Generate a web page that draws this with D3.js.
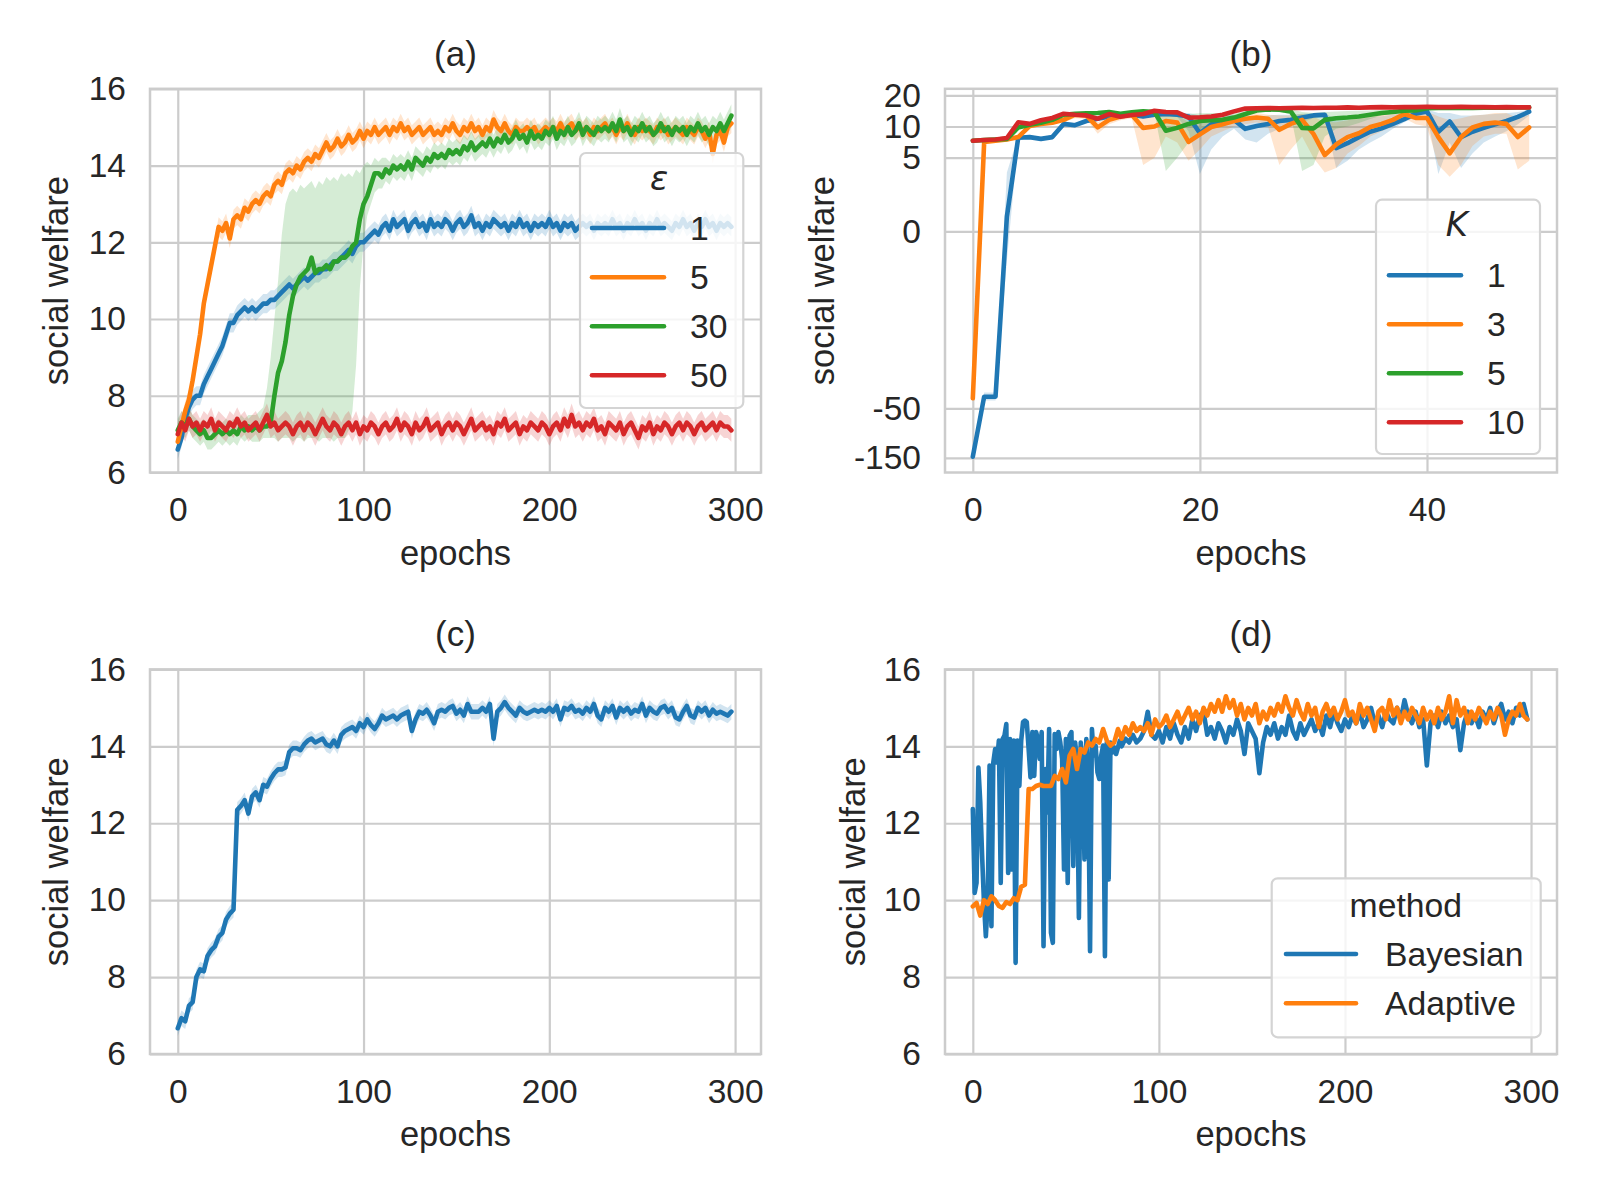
<!DOCTYPE html>
<html><head><meta charset="utf-8">
<script src="https://cdn.jsdelivr.net/npm/d3@7"></script>
<style>
body{margin:0;background:#fff}
</style>
</head><body>
<svg id="chart" width="1600" height="1200" xmlns="http://www.w3.org/2000/svg"></svg>
<script>
// ---------------- DATA ----------------
// Panel (a): social welfare per epoch (epochs 0..298, every 2nd epoch)
const epsLabels = ["1", "5", "30", "50"];
const eps1 = [
6.6,6.9,7.4,7.7,7.9,8.0,8.0,8.3,8.5,8.7,
8.9,9.1,9.3,9.6,9.9,9.9,10.1,10.2,10.3,10.2,
10.3,10.2,10.3,10.4,10.4,10.5,10.5,10.6,10.7,10.8,
10.9,10.8,10.9,11.0,11.1,11.0,11.1,11.2,11.2,11.3,
11.3,11.4,11.5,11.5,11.6,11.7,11.8,11.7,11.9,12.0,
12.0,12.1,12.2,12.3,12.2,12.4,12.5,12.3,12.6,12.4,
12.5,12.6,12.3,12.5,12.6,12.4,12.5,12.3,12.6,12.4,
12.5,12.4,12.6,12.5,12.3,12.5,12.6,12.4,12.5,12.7,
12.4,12.5,12.3,12.5,12.4,12.6,12.5,12.4,12.5,12.3,
12.5,12.4,12.6,12.4,12.5,12.3,12.5,12.4,12.5,12.4,
12.6,12.4,12.5,12.3,12.5,12.4,12.5,12.3,12.4,12.5,
12.4,12.5,12.3,12.5,12.4,12.5,12.4,12.6,12.4,12.5,
12.3,12.5,12.4,12.6,12.4,12.5,12.3,12.5,12.4,12.6,
12.4,12.5,12.4,12.3,12.5,12.4,12.6,12.4,12.5,12.3,
12.5,12.4,12.6,12.4,12.5,12.3,12.5,12.4,12.5,12.4];
const eps5 = [
6.8,7.2,7.6,7.9,8.4,9.0,9.6,10.4,10.9,11.4,
11.9,12.4,12.3,12.5,12.1,12.6,12.7,12.6,12.9,12.8,
13.0,13.1,13.0,13.2,13.3,13.2,13.5,13.6,13.5,13.8,
13.9,13.8,14.0,13.9,14.1,14.2,14.1,14.3,14.2,14.4,
14.6,14.4,14.5,14.7,14.5,14.6,14.8,14.6,14.7,14.9,
14.7,14.9,14.8,15.0,14.8,14.9,15.0,14.8,15.0,14.9,
15.1,14.9,15.0,14.8,14.9,15.0,14.8,14.9,15.0,14.8,
14.9,14.8,15.0,14.9,15.1,14.9,14.8,15.0,14.9,15.1,
14.9,15.0,14.8,15.0,14.9,15.2,15.0,14.9,15.1,14.9,
14.8,15.0,14.9,14.9,15.0,14.9,15.0,14.8,14.9,15.0,
14.9,15.0,14.9,15.1,14.9,15.0,15.1,14.9,15.0,14.9,
15.0,14.8,15.0,14.9,15.0,15.1,14.9,15.0,14.8,15.0,
14.9,15.1,14.9,14.8,15.0,14.9,15.0,14.9,14.8,15.0,
14.9,15.0,14.8,14.9,15.0,14.9,14.8,15.0,14.9,14.8,
15.0,14.9,14.7,14.9,14.3,14.8,14.9,14.6,15.0,15.1];
const eps30 = [
7.1,7.3,7.2,7.4,7.2,7.1,7.0,7.1,6.9,6.9,
7.0,7.1,7.0,7.1,7.0,7.1,7.0,7.2,7.1,7.2,
7.1,7.2,7.1,7.2,7.2,7.3,8.0,8.6,8.9,9.4,
10.1,10.6,10.9,11.1,11.2,11.3,11.6,11.2,11.3,11.3,
11.4,11.3,11.5,11.5,11.6,11.6,11.7,11.9,12.0,12.6,
13.0,13.2,13.5,13.8,13.8,13.7,13.9,13.8,14.0,13.9,
14.0,13.9,14.1,13.9,14.2,14.1,14.0,14.2,14.1,14.3,
14.2,14.3,14.2,14.4,14.3,14.4,14.3,14.5,14.4,14.6,
14.4,14.5,14.6,14.5,14.7,14.5,14.7,14.6,14.8,14.6,
14.7,14.9,14.7,14.8,14.6,14.9,14.7,14.8,14.7,14.9,
14.8,15.0,14.7,14.9,14.8,15.0,14.8,14.9,15.1,14.8,
15.0,14.9,14.8,15.0,14.9,15.0,14.9,15.1,14.9,15.2,
14.9,15.0,14.8,15.0,14.9,15.1,14.9,15.0,14.8,14.9,
15.1,14.9,15.0,14.8,15.0,14.9,15.0,14.8,15.0,14.9,
15.1,14.9,15.0,14.8,15.0,14.9,15.1,14.9,15.1,15.3];
const eps50 = [
7.0,7.3,7.1,7.4,7.2,7.3,7.1,7.3,7.2,7.4,
7.1,7.3,7.2,7.1,7.3,7.2,7.4,7.2,7.3,7.1,
7.2,7.3,7.1,7.3,7.5,7.2,7.3,7.1,7.2,7.3,
7.2,7.0,7.2,7.3,7.1,7.3,7.2,7.0,7.2,7.4,
7.2,7.1,7.3,7.2,7.0,7.2,7.3,7.1,7.3,7.0,
7.2,7.1,7.3,7.2,7.0,7.2,7.3,7.1,7.2,7.4,
7.1,7.3,7.2,7.0,7.3,7.1,7.2,7.4,7.1,7.2,
7.3,7.0,7.2,7.3,7.1,7.3,7.2,7.0,7.2,7.4,
7.1,7.2,7.3,7.1,7.2,7.0,7.3,7.2,7.4,7.1,
7.2,7.3,7.0,7.2,7.1,7.3,7.2,7.1,7.3,7.2,
7.0,7.2,7.3,7.1,7.4,7.2,7.5,7.2,7.3,7.1,
7.3,7.2,7.4,7.1,7.2,7.0,7.3,7.2,7.1,7.3,
7.0,7.2,7.3,7.1,6.9,7.2,7.1,7.3,7.0,7.2,
7.1,7.3,7.2,7.0,7.2,7.3,7.1,7.3,7.2,7.0,
7.2,7.3,7.1,7.2,7.3,7.1,7.3,7.2,7.2,7.1];
// confidence half-widths read for (a)
const ciHalfA = [0.25, 0.25, 0.3, 0.3];
// eps=30 wide band, epochs 40..120 every 2nd epoch
const eps30BandLo = [
6.8,6.8,6.8,6.9,6.9,6.9,6.9,6.8,6.9,6.9,
6.9,6.8,6.9,6.9,6.8,6.9,6.9,6.9,6.8,6.9,
6.9,6.9,6.8,6.9,6.9,6.9,7.1,7.6,8.8,10.8,
12.0,12.7,13.0,13.3,13.4,13.4,13.6,13.5,13.7,13.6,
13.7];
const eps30BandHi = [
7.5,7.5,7.6,7.7,8.2,9.0,10.0,11.0,12.2,13.0,
13.3,13.4,13.3,13.5,13.4,13.5,13.6,13.4,13.6,13.5,
13.7,13.6,13.7,13.6,13.8,13.7,13.8,13.7,13.9,13.8,
14.0,14.1,14.0,14.2,14.1,14.2,14.2,14.1,14.3,14.2,
14.3];

// Panel (b): epochs 0..49
const kLabels = ["1", "3", "5", "10"];
const k1 = [-146,-38.5,-38.5,1.0,7.8,7.9,7.6,7.9,10.6,10.3,
11.3,11.9,12.5,12.8,13.0,12.5,13.0,13.2,13.0,12.5,
8.6,10.5,11.0,11.6,9.5,10.1,10.6,11.3,11.6,12.2,
12.8,13.0,6.2,6.9,7.9,8.9,9.6,10.6,11.8,13.3,
14.0,8.9,11.2,7.9,8.9,9.7,10.5,11.3,12.4,13.9];
const k1Lo = [-150,-42,-42,-2,7.5,7.6,7.3,7.6,10.0,9.8,
10.8,11.4,12.0,12.3,12.5,12.0,12.5,12.6,12.4,9.0,
3.9,6.0,8.0,9.5,7.5,7.0,8.5,9.5,10.0,11.0,
12.0,12.2,4.3,4.8,6.0,7.0,8.0,9.5,11.0,12.5,
13.0,3.9,7.0,4.3,5.5,7.0,8.0,9.0,10.5,12.8];
const k1Hi = [-142,-35,-35,4,8.1,8.2,7.9,8.2,11.2,10.8,
11.8,12.4,13.0,13.3,13.5,13.0,13.5,13.7,13.6,13.5,
12.8,12.5,12.8,13.0,12.5,12.5,12.8,13.0,13.0,13.3,
13.5,13.6,11.5,11.5,11.8,12.2,12.6,13.0,13.6,14.0,
14.6,13.5,13.5,12.8,12.8,13.0,13.2,13.4,13.8,14.5];
const k3 = [-39.9,7.1,7.3,7.5,7.9,10.1,10.6,10.9,11.6,13.0,
12.8,9.8,11.6,12.5,13.0,9.7,10.0,11.3,10.9,7.1,
8.4,9.9,10.5,11.3,11.9,12.2,11.9,9.3,10.6,11.6,
8.5,5.3,6.7,7.9,8.6,9.9,10.6,11.6,13.2,12.1,
12.1,7.9,5.5,7.9,9.8,10.6,10.9,10.6,7.9,9.8];
const k3Lo = [-41,6.8,7.0,7.2,7.5,9.5,10.2,10.5,11.0,12.0,
11.8,8.5,10.5,11.5,12.0,4.5,5.0,8.0,7.0,4.8,
6.0,8.0,9.0,10.0,10.5,11.0,10.0,4.5,6.0,8.0,
5.0,4.0,4.3,5.5,6.5,8.0,9.0,10.0,12.0,10.5,
10.0,4.5,3.7,4.5,6.5,8.0,8.5,8.5,4.2,4.8];
const k3Hi = [-39,7.4,7.6,7.8,8.3,10.7,11.0,11.3,12.2,13.8,
13.6,11.0,12.6,13.4,13.8,12.8,13.0,13.5,13.0,11.0,
11.5,12.0,12.2,12.8,13.2,13.5,13.0,12.8,12.8,13.2,
12.5,11.0,11.0,11.5,12.0,12.5,13.0,13.2,14.2,13.8,
14.0,12.5,11.5,12.0,12.8,13.0,13.5,13.5,12.0,13.0];
const k5 = [7.3,7.4,7.5,7.6,9.8,10.4,10.9,11.6,13.0,13.3,
13.4,13.5,13.8,13.3,13.7,14.0,13.8,9.1,9.7,10.6,
11.3,11.5,11.6,12.2,13.2,14.3,14.6,14.5,14.0,9.7,
9.6,11.6,12.0,12.2,12.5,13.0,13.5,13.8,14.2,14.3,
15.0,15.1,15.1,15.2,15.1,15.2,15.3,15.2,15.3,15.3];
const k5Lo = [7.1,7.2,7.3,7.4,9.4,10.0,10.5,11.2,12.6,12.9,
13.0,13.1,13.4,12.8,13.3,13.6,13.4,4.1,5.0,7.0,
9.0,9.5,10.0,11.0,12.5,13.8,14.1,14.0,13.0,4.1,
4.5,8.0,9.5,10.0,10.8,11.8,12.8,13.3,13.8,14.0,
14.7,14.8,14.8,14.9,14.8,14.9,15.0,14.9,15.0,15.0];
const k5Hi = [7.5,7.6,7.7,7.8,10.2,10.8,11.3,12.0,13.4,13.7,
13.8,13.9,14.2,13.8,14.1,14.4,14.2,13.5,13.2,13.2,
13.4,13.5,13.5,13.8,14.0,14.8,15.1,15.0,14.8,13.8,
13.5,13.8,14.0,14.1,14.2,14.3,14.5,14.6,14.7,14.8,
15.3,15.4,15.4,15.5,15.4,15.5,15.6,15.5,15.6,15.6];
const k10 = [7.3,7.4,7.5,7.75,11.0,10.6,11.5,12.1,13.3,13.0,
12.8,11.9,13.2,12.4,12.9,13.2,14.2,13.8,13.7,12.2,
12.3,12.5,13.0,14.0,14.9,15.0,15.1,15.0,15.1,15.2,
15.1,15.2,15.2,15.3,15.2,15.3,15.4,15.3,15.4,15.4,
15.5,15.4,15.4,15.5,15.4,15.4,15.3,15.4,15.3,15.3];
const bTickValues = [-150, -50, 0, 5, 10, 20];
const bTickLabels = ["-150", "-50", "0", "5", "10", "20"];

// Panel (c): epochs 0..298 every 2nd epoch
const welfareC = [
6.67,6.93,6.85,7.25,7.35,8.0,8.2,8.15,8.55,8.7,
8.8,9.05,9.15,9.5,9.65,9.75,12.35,12.45,12.6,12.25,
12.7,12.8,12.6,13.0,12.95,13.15,13.3,13.4,13.4,13.45,
13.85,13.95,13.95,13.9,14.05,14.15,14.2,14.1,14.15,14.2,
14.05,14.0,14.15,14.0,14.3,14.4,14.45,14.5,14.4,14.6,
14.5,14.7,14.55,14.45,14.6,14.8,14.7,14.75,14.8,14.7,
14.8,14.85,14.9,14.4,14.7,14.9,14.85,14.95,14.8,14.6,
14.9,14.95,14.9,15.0,15.05,14.85,14.95,14.8,15.1,14.9,
14.9,14.9,15.0,14.9,15.1,14.2,14.9,15.0,15.15,15.0,
14.9,14.8,15.0,14.9,14.85,14.9,14.95,14.9,14.95,14.9,
15.0,14.9,15.05,14.7,15.0,14.95,15.05,14.9,14.95,14.85,
15.0,14.9,15.1,14.8,14.7,15.0,14.9,15.05,14.75,15.0,
14.9,15.0,14.85,14.95,14.9,15.1,14.8,15.0,14.9,14.85,
15.0,15.05,14.9,15.0,14.75,14.7,14.9,15.05,14.8,14.75,
15.0,14.9,15.0,14.8,14.95,14.85,14.9,14.85,14.8,14.9];
const ciHalfC = 0.2;

// Panel (d)
const methods = ["Bayesian", "Adaptive"];
// Bayesian: epochs 0..79 (every epoch)
const bayesEarly = [
12.37,10.19,10.45,13.45,12.54,11.15,9.93,9.06,9.93,13.5,
9.32,13.58,13.93,13.58,14.15,10.45,14.19,14.28,14.58,10.71,
14.19,10.8,14.15,8.37,14.15,12.97,14.15,14.63,14.67,14.63,
13.93,13.19,14.37,13.23,14.37,14.19,13.67,14.37,8.8,13.41,
12.28,14.45,9.15,8.89,14.32,13.93,14.37,14.1,13.67,10.8,
14.19,10.45,14.28,14.37,10.89,14.1,13.58,9.54,14.1,13.41,
11.06,14.19,13.32,8.67,14.45,13.76,14.02,13.32,13.15,13.76,
14.02,8.54,14.1,10.54,14.1,13.84,13.97,13.8,13.97,14.15];
// Bayesian: epochs 80..298 (every 2nd epoch)
const bayesLate = [
14.0,14.2,14.1,14.3,14.1,14.2,14.4,14.9,14.3,14.2,
14.4,14.1,14.5,14.2,14.6,14.3,14.1,14.5,14.2,14.7,
14.4,14.8,14.9,14.3,14.5,14.2,14.6,14.4,14.1,14.5,
14.3,14.7,14.4,13.8,14.6,14.4,14.2,13.3,14.1,14.5,
14.3,14.6,14.2,14.5,14.3,14.8,14.4,14.2,14.6,14.3,
14.5,14.7,14.4,14.6,14.3,14.8,14.5,14.9,14.6,14.4,
14.7,14.5,14.8,14.6,14.9,14.5,14.7,15.0,14.6,14.8,
14.5,14.9,14.7,14.6,15.0,14.7,15.2,14.8,14.6,14.9,
14.5,14.7,13.5,14.6,14.8,14.5,14.9,14.6,14.8,14.5,
14.7,13.9,14.6,14.9,14.6,14.8,14.5,14.9,14.7,15.0,
14.6,14.9,15.1,14.7,14.9,14.6,15.0,14.8,15.1,14.7];
// Adaptive: epochs 0..298 (every 2nd epoch)
const adaptive = [
9.84,9.93,9.6,10.0,9.9,10.1,10.0,9.85,9.8,9.95,
9.9,10.05,10.0,10.35,10.4,12.89,12.89,12.97,13.0,12.97,
12.97,12.97,13.23,13.15,13.41,13.06,13.76,13.93,13.41,13.93,
13.84,14.1,14.02,14.19,14.1,14.45,14.15,14.02,14.1,14.45,
14.2,14.5,14.3,14.6,14.4,14.5,14.4,14.6,14.3,14.7,
14.5,14.6,14.8,14.5,14.7,14.9,14.6,14.8,15.0,14.7,
14.9,14.6,15.0,14.8,15.1,14.9,15.2,14.9,15.3,15.0,
15.2,14.8,15.1,14.7,15.0,14.8,15.1,14.6,14.9,14.7,
15.0,14.8,15.1,14.9,15.3,15.0,14.8,15.2,14.9,14.7,
15.1,14.8,15.0,14.5,14.9,15.1,14.8,15.0,14.7,14.9,
15.2,14.8,14.9,14.6,15.1,14.8,15.0,14.7,14.4,14.9,
15.0,14.7,15.2,14.8,15.0,14.6,14.9,14.7,15.0,14.8,
14.6,15.0,14.7,14.9,14.6,15.0,14.7,14.9,15.3,14.6,
15.2,14.8,15.0,14.6,14.9,14.7,15.0,14.8,14.6,14.9,
14.7,15.0,14.8,14.3,14.7,14.9,14.8,15.1,14.8,14.7];

const xTicks300 = [0, 100, 200, 300];
const xTicks50 = [0, 20, 40];
const yTicksWelfare = [6, 8, 10, 12, 14, 16];

// ---------------- STYLE ----------------
const FONT = "'Liberation Sans', Arial, Helvetica, sans-serif";
const TEXT = "#262626";
const GRID = "#cccccc";
const COLORS = ["#1f77b4", "#ff7f0e", "#2ca02c", "#d62728"];
const LINE_W = 4.6;

const svg = d3.select("#chart");
svg.append("rect").attr("width", 1600).attr("height", 1200).attr("fill", "#fff");

// symmetric-log transform (linear below 5, log above)
const SYM_C = 5, SYM_L = 1.637;
function symT(v) {
  const a = Math.abs(v);
  const t = a <= SYM_C ? a / SYM_C * SYM_L : SYM_L + Math.log(a / SYM_C);
  return v < 0 ? -t : t;
}

function toPts(vals, step, start) { return vals.map((v, i) => ({e: start + i * step, v})); }

let clipId = 0;
function panel(p) {
  const w = p.right - p.left, h = p.bottom - p.top;
  const g = svg.append("g");
  const ax = g.append("g").attr("transform", `translate(0,${p.bottom})`)
    .call(d3.axisBottom(p.x).tickValues(p.xTicks).tickSizeInner(-h).tickSizeOuter(0)
      .tickPadding(25).tickFormat(d3.format("d")));
  const ay = g.append("g").attr("transform", `translate(${p.left},0)`)
    .call(d3.axisLeft(p.y).tickValues(p.yTicks).tickSizeInner(-w).tickSizeOuter(0)
      .tickPadding(24).tickFormat(p.yFormat || d3.format("d")));
  [ax, ay].forEach(a => {
    a.select(".domain").remove();
    a.selectAll(".tick line").attr("stroke", GRID).attr("stroke-width", 2.2);
    a.selectAll(".tick text").attr("fill", TEXT).style("font-family", FONT).style("font-size", "33.5px");
  });
  const id = "clip" + (clipId++);
  svg.append("clipPath").attr("id", id).append("rect")
    .attr("x", p.left).attr("y", p.top).attr("width", w).attr("height", h);
  const data = g.append("g").attr("clip-path", `url(#${id})`);
  const cx = (p.left + p.right) / 2;
  g.append("text").attr("x", cx).attr("y", p.top - 23).attr("text-anchor", "middle")
    .style("font-family", FONT).style("font-size", "35px").attr("fill", TEXT).text(p.title);
  g.append("text").attr("x", cx).attr("y", p.bottom + 92).attr("text-anchor", "middle")
    .style("font-family", FONT).style("font-size", "34.5px").attr("fill", TEXT).text("epochs");
  g.append("text").attr("transform", `translate(${p.ylabelX},${(p.top + p.bottom) / 2}) rotate(-90)`)
    .attr("text-anchor", "middle").style("font-family", FONT).style("font-size", "34.5px")
    .attr("fill", TEXT).text("social welfare");
  return {g, data, finish() {
    g.append("rect").attr("x", p.left).attr("y", p.top).attr("width", w).attr("height", h)
      .attr("fill", "none").attr("stroke", GRID).attr("stroke-width", 2.5);
  }};
}

function drawBand(layer, pts, x, y, color) {
  layer.append("path").datum(pts)
    .attr("d", d3.area().x(d => x(d.e)).y0(d => y(d.lo)).y1(d => y(d.hi)))
    .attr("fill", color).attr("fill-opacity", 0.2).attr("stroke", "none");
}
function drawLine(layer, pts, x, y, color) {
  layer.append("path").datum(pts)
    .attr("d", d3.line().x(d => x(d.e)).y(d => y(d.v)))
    .attr("fill", "none").attr("stroke", color).attr("stroke-width", LINE_W)
    .attr("stroke-linejoin", "round").attr("stroke-linecap", "round");
}

function legend(o) {
  const g = svg.append("g");
  g.append("rect").attr("x", o.x0).attr("y", o.y0).attr("width", o.x1 - o.x0).attr("height", o.y1 - o.y0)
    .attr("rx", 6).attr("fill", "#fff").attr("fill-opacity", 0.8).attr("stroke", "#d4d4d4").attr("stroke-width", 2.2);
  g.append("text").attr("x", o.titleX).attr("y", o.titleY).attr("text-anchor", "middle")
    .style("font-family", o.titleItalic ? "'DejaVu Sans', sans-serif" : FONT)
    .style("font-style", o.titleItalic ? "italic" : "normal")
    .style("font-size", "33.7px").attr("fill", TEXT).text(o.title);
  o.items.forEach((it, i) => {
    const yy = o.itemY[i];
    g.append("line").attr("x1", o.lineX0).attr("x2", o.lineX1).attr("y1", yy).attr("y2", yy)
      .attr("stroke", it.color).attr("stroke-width", LINE_W).attr("stroke-linecap", "round");
    g.append("text").attr("x", o.textX).attr("y", yy + 12).style("font-family", FONT)
      .style("font-size", "33.7px").attr("fill", TEXT).text(it.label);
  });
}

// ---------------- PANEL (a) ----------------
{
  const x = d3.scaleLinear().domain([-14.95, 313.95]).range([150, 761]);
  const y = d3.scaleLinear().domain([6, 16]).range([472.5, 88.8]);
  const P = panel({left:150, right:761, top:88.8, bottom:472.5, x, y, xTicks:xTicks300, yTicks:yTicksWelfare, title:"(a)", ylabelX:68});
  const all = [eps1, eps5, eps30, eps50];
  all.forEach((vals, s) => {
    const pts = toPts(vals, 2, 0);
    let band;
    if (s === 2) {
      band = pts.map(d => {
        const k = (d.e - 40) / 2;
        if (d.e >= 40 && d.e <= 120) return {e: d.e, lo: eps30BandLo[k], hi: eps30BandHi[k]};
        return {e: d.e, lo: d.v - ciHalfA[s], hi: d.v + ciHalfA[s]};
      });
    } else {
      band = pts.map(d => ({e: d.e, lo: d.v - ciHalfA[s], hi: d.v + ciHalfA[s]}));
    }
    drawBand(P.data, band, x, y, COLORS[s]);
  });
  all.forEach((vals, s) => drawLine(P.data, toPts(vals, 2, 0), x, y, COLORS[s]));
  P.finish();
  legend({x0:580, y0:153, x1:743.3, y1:408, title:"ε", titleItalic:true, titleX:659, titleY:190,
    items: epsLabels.map((l, i) => ({label:l, color:COLORS[i]})), itemY:[228, 277.3, 326.3, 375.3],
    lineX0:592, lineX1:664, textX:690});
}

// ---------------- PANEL (b) ----------------
{
  const x = d3.scaleLinear().domain([-2.45, 51.45]).range([945, 1557]);
  const yLin = d3.scaleLinear().domain([-5.364, 3.169]).range([472.5, 88.8]);
  const y = v => yLin(symT(v));
  const tvals = bTickValues.map(symT);
  const fmt = d => bTickLabels[tvals.findIndex(t => Math.abs(t - d) < 1e-9)];
  const P = panel({left:945, right:1557, top:88.8, bottom:472.5, x, y:yLin, xTicks:xTicks50, yTicks:tvals, yFormat:fmt, title:"(b)", ylabelX:834});
  const lines = [k1, k3, k5, k10];
  const los = [k1Lo, k3Lo, k5Lo, null];
  const his = [k1Hi, k3Hi, k5Hi, null];
  lines.forEach((vals, s) => {
    if (!los[s]) return;
    const band = vals.map((v, i) => ({e: i, lo: los[s][i], hi: his[s][i]}));
    drawBand(P.data, band, x, y, COLORS[s]);
  });
  lines.forEach((vals, s) => drawLine(P.data, toPts(vals, 1, 0), x, y, COLORS[s]));
  P.finish();
  legend({x0:1376, y0:199.7, x1:1540, y1:454, title:"K", titleItalic:true, titleX:1456.7, titleY:236,
    items: kLabels.map((l, i) => ({label:l, color:COLORS[i]})), itemY:[275.3, 324.3, 373.3, 422.3],
    lineX0:1389, lineX1:1461, textX:1487});
}

// ---------------- PANEL (c) ----------------
{
  const x = d3.scaleLinear().domain([-14.95, 313.95]).range([150, 761]);
  const y = d3.scaleLinear().domain([6, 16]).range([1054, 669.4]);
  const P = panel({left:150, right:761, top:669.4, bottom:1054, x, y, xTicks:xTicks300, yTicks:yTicksWelfare, title:"(c)", ylabelX:68});
  const pts = toPts(welfareC, 2, 0);
  drawBand(P.data, pts.map(d => ({e: d.e, lo: d.v - ciHalfC, hi: d.v + ciHalfC})), x, y, COLORS[0]);
  drawLine(P.data, pts, x, y, COLORS[0]);
  P.finish();
}

// ---------------- PANEL (d) ----------------
{
  const x = d3.scaleLinear().domain([-14.95, 313.95]).range([945, 1557]);
  const y = d3.scaleLinear().domain([6, 16]).range([1054, 669.4]);
  const P = panel({left:945, right:1557, top:669.4, bottom:1054, x, y, xTicks:xTicks300, yTicks:yTicksWelfare, title:"(d)", ylabelX:865});
  const bayes = toPts(bayesEarly, 1, 0).concat(toPts(bayesLate, 2, 80));
  drawLine(P.data, bayes, x, y, COLORS[0]);
  drawLine(P.data, toPts(adaptive, 2, 0), x, y, COLORS[1]);
  P.finish();
  legend({x0:1271.7, y0:878.3, x1:1540.7, y1:1037.3, title:"method", titleItalic:false, titleX:1405.8, titleY:917,
    items: methods.map((l, i) => ({label:l, color:COLORS[i]})), itemY:[954, 1003.3],
    lineX0:1286, lineX1:1356, textX:1385});
}
</script>
</body></html>
